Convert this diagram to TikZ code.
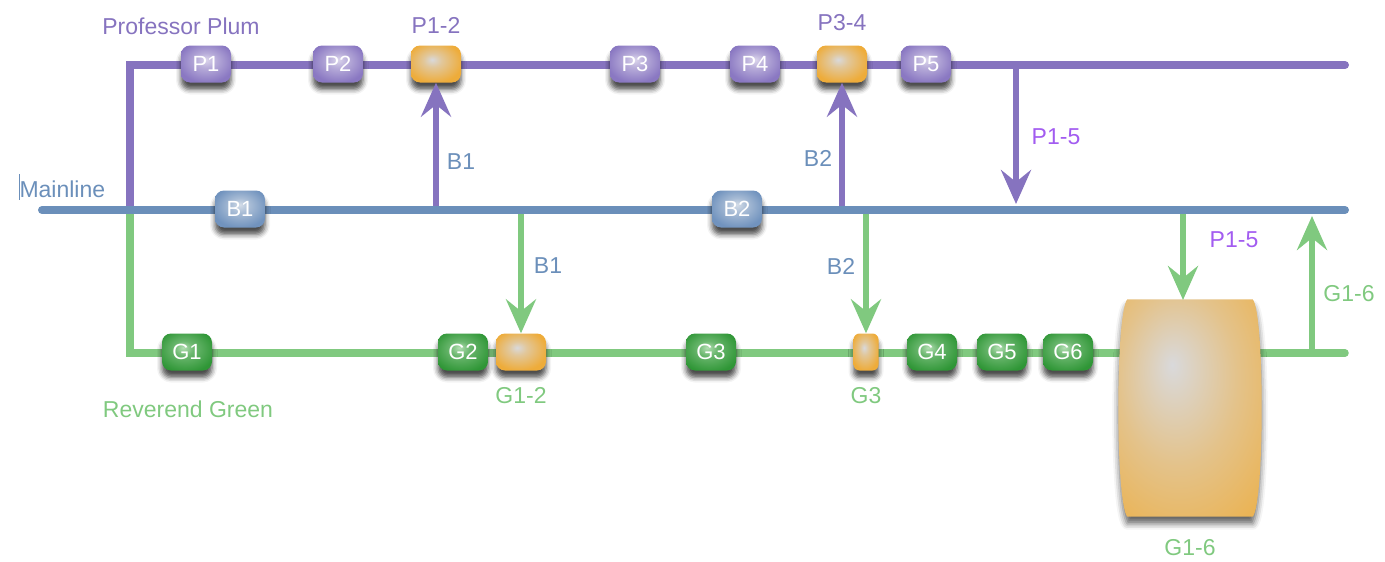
\documentclass[tikz,border=0pt]{standalone}
\usepackage{fontspec}
\setmainfont{Liberation Sans}
\usetikzlibrary{arrows.meta,shadows.blur,calc}
\definecolor{plum}{HTML}{8673BF}
\definecolor{mainb}{HTML}{6B8FBA}
\definecolor{grn}{HTML}{80C97F}
\definecolor{vio}{HTML}{A25CF0}
\definecolor{plumin}{HTML}{DCD6EC}
\definecolor{plumout}{HTML}{8A78C2}
\definecolor{bluein}{HTML}{D4DDE8}
\definecolor{blueout}{HTML}{7193BE}
\definecolor{grnin}{HTML}{B2DEB2}
\definecolor{grnout}{HTML}{2F9636}
\definecolor{orin}{HTML}{D9D9DB}
\definecolor{orout}{HTML}{EEAC3A}
\pgfdeclareradialshading{plumsh}{\pgfpoint{0bp}{6bp}}{color(0bp)=(plumin); color(10bp)=(plumin!55!plumout); color(28bp)=(plumout); color(50bp)=(plumout)}
\pgfdeclareradialshading{bluesh}{\pgfpoint{0bp}{6bp}}{color(0bp)=(bluein); color(10bp)=(bluein!55!blueout); color(28bp)=(blueout); color(50bp)=(blueout)}
\pgfdeclareradialshading{grnsh}{\pgfpoint{-4bp}{6bp}}{color(0bp)=(grnin); color(10bp)=(grnin!45!grnout); color(30bp)=(grnout); color(50bp)=(grnout)}
\pgfdeclareradialshading{orsh}{\pgfpoint{-4bp}{6bp}}{color(0bp)=(orin); color(9bp)=(orin!60!orout); color(28bp)=(orout); color(50bp)=(orout)}
\pgfdeclareradialshading{bigsh}{\pgfpoint{-6bp}{10bp}}{color(0bp)=(orin); color(20bp)=(orin!50!orout); color(45bp)=(orout); color(65bp)=(orout!85!orange)}
\begin{document}
\begin{tikzpicture}[x=1pt,y=-1pt,
  lbl/.style={font=\fontsize{23}{27}\selectfont, inner sep=0pt},
  box/.style={rounded corners=9pt, minimum width=50pt, minimum height=37pt, inner sep=0pt,
    text=white, font=\fontsize{22}{26}\selectfont,
    blur shadow={shadow xshift=0pt, shadow yshift=-7pt, shadow blur radius=5pt, shadow opacity=70}},
  pbox/.style={box, shading=plumsh},
  bbox/.style={box, shading=bluesh},
  gbox/.style={box, shading=grnsh},
  obox/.style={box, shading=orsh},
  pline/.style={draw=plum, line width=8pt, line cap=round},
  bline/.style={draw=mainb, line width=8pt, line cap=round},
  gline/.style={draw=grn, line width=7.5pt, line cap=round},
  tip/.style={-{Stealth[length=34pt,width=30pt,inset=12pt]}},
  parrow/.style={draw=plum, line width=5.5pt, tip},
  garrow/.style={draw=grn, line width=5.5pt, tip}
]
\useasboundingbox (0,0) rectangle (1385,562);

% track coordinates
\coordinate (pc) at (130,65);
\coordinate (pe) at (1345,65);
\coordinate (mx) at (130,210);
\coordinate (ms) at (42,210);
\coordinate (me) at (1345,210);
\coordinate (gc) at (130,353);
\coordinate (ge) at (1345,353);

\draw[pline] (mx) -- (pc) -- (pe);
\draw[gline] (mx) -- (gc) -- (ge);

% nodes
\node[pbox] (p1) at (206,64) {P1};
\node[pbox] (p2) at (338,64) {P2};
\node[obox] (p12) at (436,64) {};
\node[pbox] (p3) at (635,64) {P3};
\node[pbox] (p4) at (755,64) {P4};
\node[obox] (p34) at (842,64) {};
\node[pbox] (p5) at (926,64) {P5};

\node[gbox] (g1) at (187,352) {G1};
\node[gbox] (g2) at (463,352) {G2};
\node[obox] (g12) at (521,352) {};
\node[gbox] (g3) at (711,352) {G3};
\node[obox, minimum width=25pt, rounded corners=6pt] (g3o) at (866,352) {};
\node[gbox] (g4) at (932,352) {G4};
\node[gbox] (g5) at (1002,352) {G5};
\node[gbox] (g6) at (1068,352) {G6};

\node[minimum width=145pt, minimum height=217pt, inner sep=0pt] (g16) at (1190,408) {};
\path[shading=bigsh,
  blur shadow={shadow xshift=0pt, shadow yshift=-7pt, shadow blur radius=6pt, shadow opacity=60}]
  ($(g16.north west)+(10,0)$) -- ($(g16.north east)+(-10,0)$)
  .. controls ($(g16.east)+(2,-95)$) and ($(g16.east)+(2,95)$) .. ($(g16.south east)+(-10,0)$)
  -- ($(g16.south west)+(10,0)$)
  .. controls ($(g16.west)+(-2,95)$) and ($(g16.west)+(-2,-95)$) .. ($(g16.north west)+(10,0)$) -- cycle;

% arrows
\coordinate (a15s) at (1016,65);
\coordinate (a15e) at (1016,204);
\coordinate (g15s) at (1183,210);
\coordinate (g15e) at (1183,300);
\coordinate (g16s) at (1312,353);
\coordinate (g16e) at (1312,216);

\draw[parrow] (p12 |- ms) -- (p12.south);
\draw[parrow] (p34 |- ms) -- (p34.south);
\draw[parrow] (a15s) -- (a15e);
\draw[garrow] (g12 |- ms) -- (g12.north);
\draw[garrow] (g3o |- ms) -- (g3o.north);
\draw[garrow] (g15s) -- (g15e);
\draw[garrow] (g16s) -- (g16e);

\draw[bline] (ms) -- (me);
\node[bbox] (b1) at (240,209) {B1};
\node[bbox] (b2) at (737,209) {B2};

% labels
\node[lbl, text=plum] (lpp) at (181,26) {Professor Plum};
\node[lbl, text=plum] (lp12) at (436,25) {P1-2};
\node[lbl, text=plum] (lp34) at (842,23) {P3-4};
\node[lbl, text=mainb] (lb1u) at (461,162) {B1};
\node[lbl, text=mainb] (lb2u) at (818,158) {B2};
\node[lbl, text=vio] (lp15a) at (1056,137) {P1-5};
\node[lbl, text=mainb] (lml) at (62,187) {\rule[-0.15ex]{0.7pt}{2.1ex}Mainline};
\node[lbl, text=mainb] (lb1d) at (548,266) {B1};
\node[lbl, text=mainb] (lb2d) at (841,266) {B2};
\node[lbl, text=vio] (lp15b) at (1234,240) {P1-5};
\node[lbl, text=grn] (lg16a) at (1349,294) {G1-6};
\node[lbl, text=grn] (lrg) at (188,409) {Reverend Green};
\node[lbl, text=grn] (lg12) at (521,396) {G1-2};
\node[lbl, text=grn] (lg3) at (866,396) {G3};
\node[lbl, text=grn] (lg16b) at (1190,548) {G1-6};
\end{tikzpicture}
\end{document}
